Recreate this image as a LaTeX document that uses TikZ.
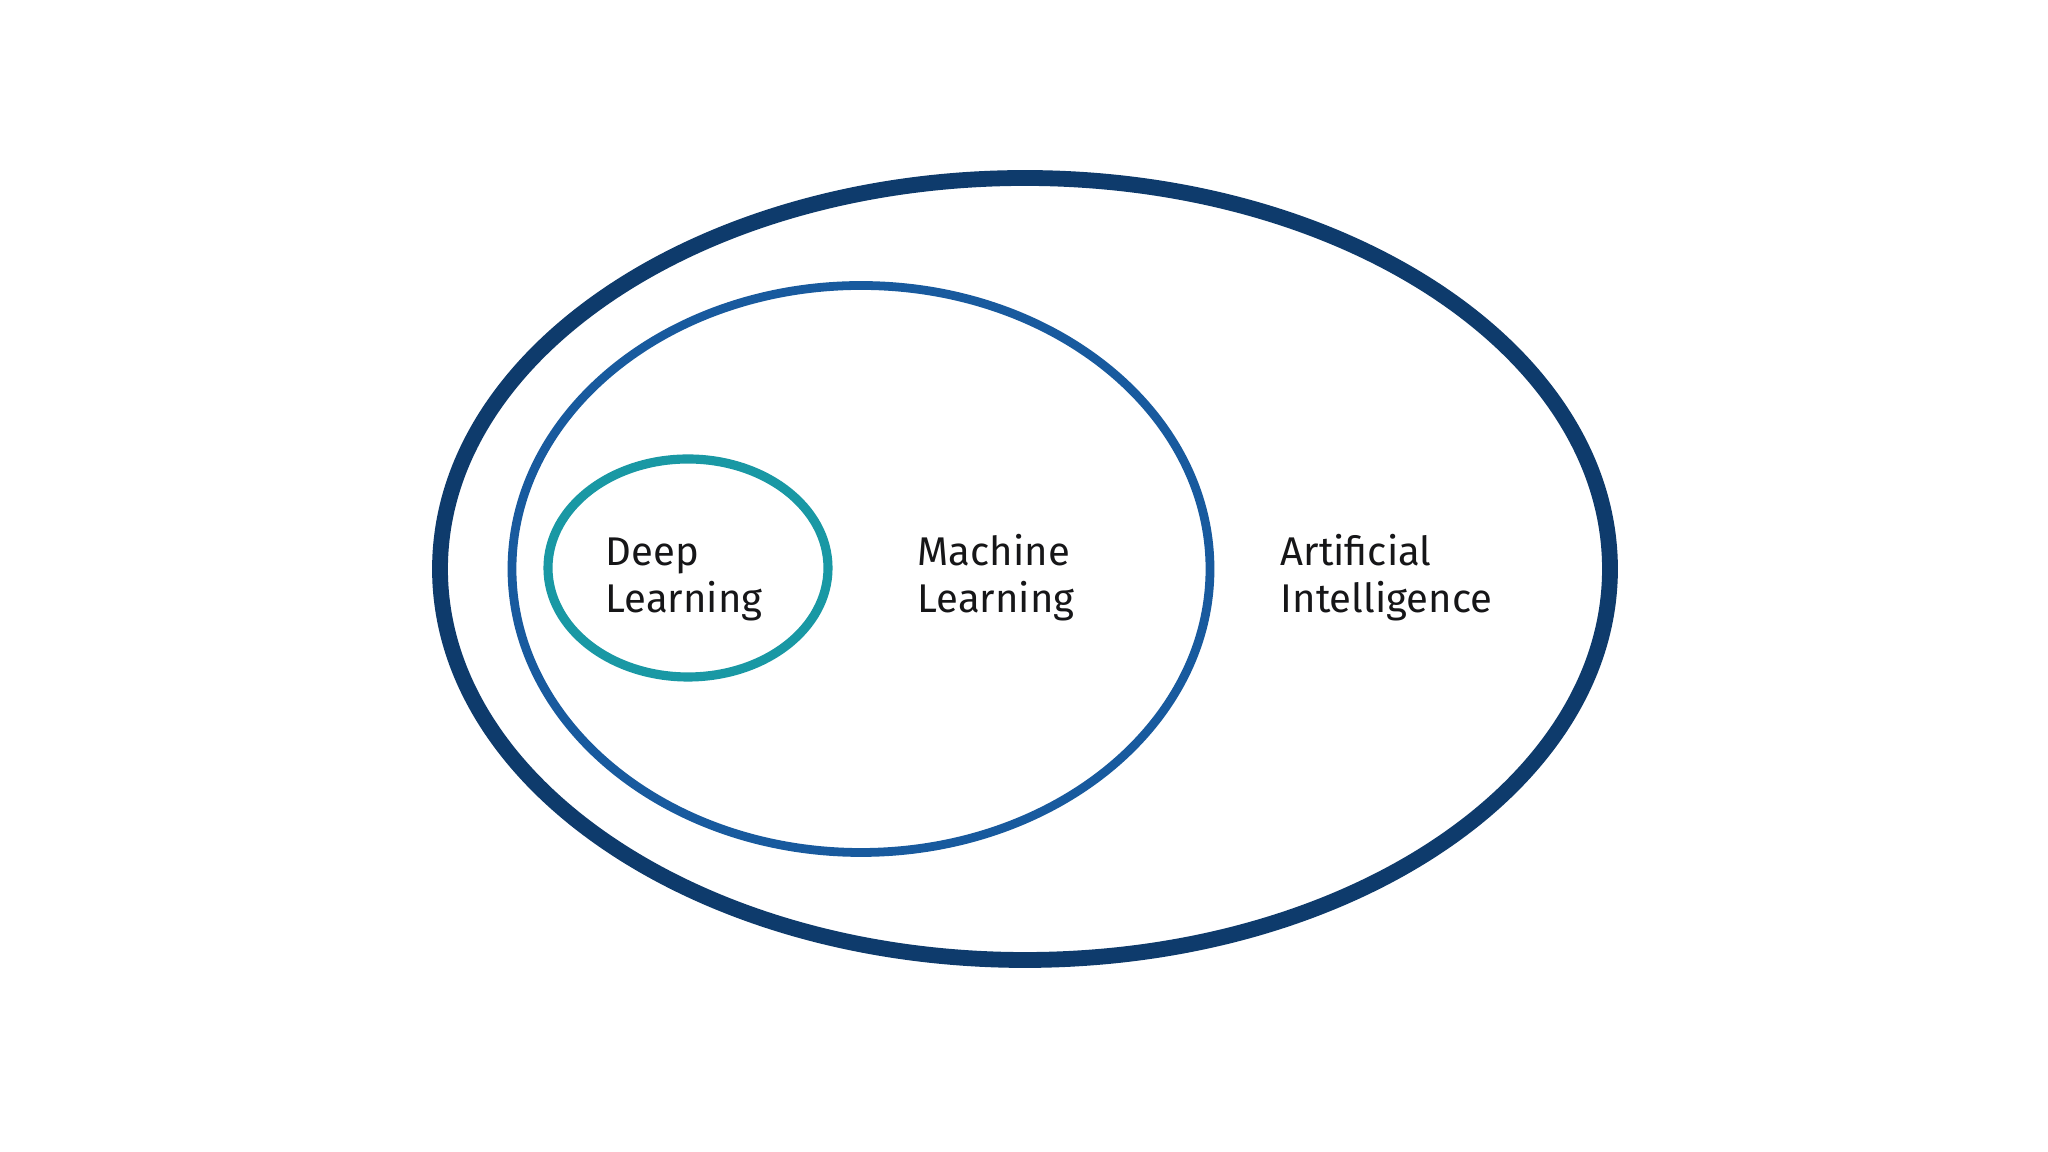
\documentclass[tikz,border=0pt]{standalone}
\usepackage{fontspec}
\setmainfont{Fira Sans}
\usepackage{tikz}
\usetikzlibrary{shapes.geometric}
\usepackage{xcolor}
\definecolor{ainavy}{RGB}{14,59,108}
\definecolor{mlblue}{RGB}{24,90,158}
\definecolor{dlteal}{RGB}{25,152,164}
\definecolor{labelink}{RGB}{22,22,24}

\begin{document}
\begin{tikzpicture}[
    set/.style={draw,ellipse,inner sep=0pt},
    setlabel/.style={anchor=base west,align=left,inner sep=0pt,text=labelink,font=\fontsize{11.4}{13.4}\selectfont}
]
\useasboundingbox[fill=white] (0,0) rectangle (20.48,11.52);
\node[set,ainavy,line width=4.5pt,minimum width=11.70cm,minimum height=7.82cm] (ai) at (10.25,5.83) {};
\node[set,mlblue,line width=2.5pt,minimum width=6.98cm,minimum height=5.67cm] (ml) at (8.61,5.83) {};
\node[set,dlteal,line width=2.6pt,minimum width=2.80cm,minimum height=2.18cm] (dl) at (6.88,5.84) {};
\node[setlabel] (dltext) at (6.05,5.39) {Deep\\Learning};
\node[setlabel] (mltext) at (9.17,5.39) {Machine\\Learning};
\node[setlabel] (aitext) at (12.80,5.39) {Artificial\\Intelligence};
\end{tikzpicture}
\end{document}
